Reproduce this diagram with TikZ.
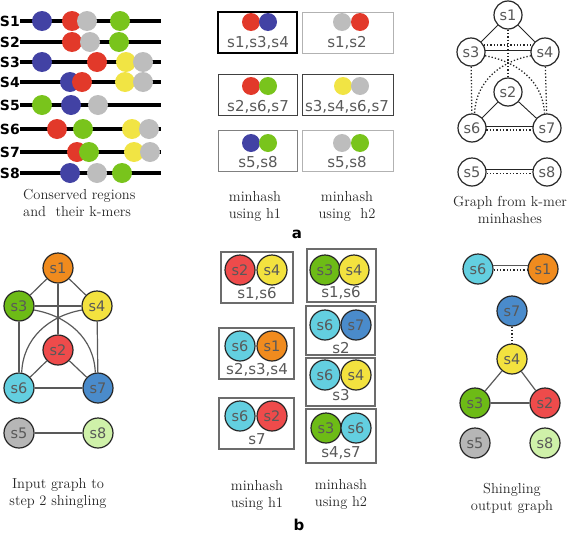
\documentclass[tikz,border=0pt]{standalone}
\usepackage{fontspec}
\newfontfamily\dejavu{DejaVu Sans}
\usetikzlibrary{positioning}

% k-mer colours (top row)
\definecolor{kblue}{HTML}{4242A4}
\definecolor{kred}{HTML}{E2392A}
\definecolor{kgray}{HTML}{BDBDBD}
\definecolor{kgreen}{HTML}{79C41C}
\definecolor{kyellow}{HTML}{F1E444}
% vertex colours (bottom row)
\definecolor{vorange}{HTML}{F08B1E}
\definecolor{vgreen}{HTML}{6DBB16}
\definecolor{vyellow}{HTML}{F3E23F}
\definecolor{vred}{HTML}{EE4B4B}
\definecolor{vcyan}{HTML}{63CFE0}
\definecolor{vblue}{HTML}{4A8BCB}
\definecolor{vgray}{HTML}{B6B6B6}
\definecolor{vlgreen}{HTML}{CFF1A9}

\tikzset{
  seqline/.style={line width=4.5pt, black},
  seqlabel/.style={anchor=east, inner sep=0pt, font=\dejavu\bfseries\fontsize{14}{14}\selectfont},
  kmer/.style={circle, inner sep=0pt, minimum size=20pt},
  hdot/.style={circle, inner sep=0pt, minimum size=18pt},
  hbox/.style={draw=gray!60, line width=1pt, minimum height=41pt, inner sep=0pt},
  htext/.style={anchor=base, inner sep=0pt, text=black!65, font=\dejavu\fontsize{15}{15}\selectfont},
  vert/.style={circle, draw=black!85, line width=1.2pt, fill=white, minimum size=28pt, inner sep=0pt, text=black!65, font=\dejavu\fontsize{14.5}{15}\selectfont},
  cvert/.style={vert, minimum size=30pt},
  sbox/.style={draw=gray!85!black, line width=1.5pt, inner sep=0pt},
  gedge/.style={black!85, line width=0.9pt},
  dotedge/.style={black!85, dotted, line width=1.3pt},
  iedge/.style={black!65, line width=1.2pt},
  capt/.style={anchor=north, inner sep=0pt, align=center, text=black!85, font=\fontsize{14.5}{17}\selectfont},
  panel/.style={inner sep=0pt, anchor=base, font=\dejavu\bfseries\fontsize{15}{15}\selectfont}
}

\begin{document}
\begin{tikzpicture}[x=1pt, y=-1pt]
    \useasboundingbox (0,0) rectangle (567,533);

    % --- a: conserved regions ---
    \foreach \n/\y in {1/21, 2/42, 3/62, 4/82, 5/105, 6/129, 7/152, 8/173} {
        \node[seqlabel] (S\n) at (20,\y) {S\n};
        \draw[seqline] (S\n.east) -- ++(141,0);
    }
    % k-mers per sequence, left to right
    \foreach \x/\y/\c in {42/21/kblue, 72/21/kred, 87/21/kgray, 120/21/kgreen,
                          72/42/kred, 90/42/kgray, 119/42/kgreen,
                          42/62/kblue, 97/62/kred, 126/62/kyellow, 143/62/kgray,
                          70/82/kblue, 82/82/kred, 125/82/kyellow, 143/82/kgray,
                          42/105/kgreen, 71/105/kblue, 98/105/kgray,
                          57/129/kred, 83/129/kgreen, 132/129/kyellow, 149/129/kgray,
                          77/152/kred, 89/152/kgreen, 134/152/kyellow, 150/152/kgray,
                          70/173/kblue, 97/173/kgray, 122/173/kgreen}
        \node[kmer, fill=\c] (k-\x-\y) at (\x,\y) {};
    \node[capt, anchor=north west, align=left] (capSeq) at (23,189) {Conserved regions\\and\ \ their k-mers};

    % --- a: minhash boxes ---
    \node[hbox, draw=black, line width=1.6pt, minimum width=79pt] (h1a) at (257.5,32.5) {};
    \node[hdot, fill=kred] (h1a-l) at (251,22) {};
    \node[hdot, fill=kblue] (h1a-r) at (268,22) {};
    \node[htext] (h1a-t) at (258,47) {s1,s3,s4};

    \node[hbox, minimum width=91pt] (h2a) at (347.5,32.5) {};
    \node[hdot, fill=kgray] (h2a-l) at (342,22) {};
    \node[hdot, fill=kred] (h2a-r) at (360,22) {};
    \node[htext] (h2a-t) at (347,47) {s1,s2};

    \node[hbox, draw=black!75, minimum width=79pt] (h1b) at (257.5,94.5) {};
    \node[hdot, fill=kred] (h1b-l) at (251,86) {};
    \node[hdot, fill=kgreen] (h1b-r) at (268,86) {};
    \node[htext] (h1b-t) at (258,111) {s2,s6,s7};

    \node[hbox, draw=black!75, minimum width=91pt] (h2b) at (347.5,94.5) {};
    \node[hdot, fill=kyellow] (h2b-l) at (343,86) {};
    \node[hdot, fill=kgray] (h2b-r) at (360,86) {};
    \node[htext] (h2b-t) at (347,111) {s3,s4,s6,s7};

    \node[hbox, draw=gray, minimum width=79pt] (h1c) at (257.5,151) {};
    \node[hdot, fill=kblue] (h1c-l) at (251,143) {};
    \node[hdot, fill=kgreen] (h1c-r) at (268,143) {};
    \node[htext] (h1c-t) at (258,167) {s5,s8};

    \node[hbox, minimum width=91pt] (h2c) at (347.5,151) {};
    \node[hdot, fill=kgray] (h2c-l) at (342,143) {};
    \node[hdot, fill=kgreen] (h2c-r) at (360,143) {};
    \node[htext] (h2c-t) at (347,167) {s5,s8};

    \node[capt] (capH1a) at (255,191) {minhash\\using h1};
    \node[capt] (capH2a) at (347,191) {minhash\\using\ \ h2};
    \node[panel] (pa) at (297,238) {a};

    % --- a: graph from k-mer minhashes ---
    \node[vert] (g1) at (508,15) {s1};
    \node[vert] (g3) at (471,52) {s3};
    \node[vert] (g4) at (545,52) {s4};
    \node[vert] (g2) at (508,92) {s2};
    \node[vert] (g6) at (472,128) {s6};
    \node[vert] (g7) at (547,128) {s7};
    \node[vert] (g5) at (472,172) {s5};
    \node[vert] (g8) at (547,172) {s8};
    \draw[gedge] (g1) -- (g3);
    \draw[gedge] (g1) -- (g4);
    \draw[dotedge] (g1) -- (g2);
    \draw[dotedge] (g3.28) -- (g4.152);
    \draw[gedge] (g3.8) -- (g4.172);
    \draw[dotedge] (g3) -- (g6);
    \draw[dotedge] (g4) -- (g7);
    \draw[dotedge] (g3.-15) to[out=-10, in=92] (g7.100);
    \draw[dotedge] (g4.195) to[out=190, in=88] (g6.80);
    \draw[gedge] (g2) -- (g6);
    \draw[gedge] (g2) -- (g7);
    \draw[gedge] (g6.8) -- (g7.172);
    \draw[dotedge] (g6.-8) -- (g7.-172);
    \draw[gedge] (g5.10) -- (g8.170);
    \draw[dotedge] (g5.-6) -- (g8.-174);
    \node[capt] (capGraph) at (510,196) {Graph from k-mer\\minhashes};

    % --- b: input graph ---
    \node[cvert, fill=vorange] (i1) at (58,268) {s1};
    \node[cvert, fill=vgreen] (i3) at (19,306) {s3};
    \node[cvert, fill=vyellow] (i4) at (97,306) {s4};
    \node[cvert, fill=vred] (i2) at (58,350) {s2};
    \node[cvert, fill=vcyan] (i6) at (19,388) {s6};
    \node[cvert, fill=vblue] (i7) at (98,388) {s7};
    \node[cvert, fill=vgray] (i5) at (19,433) {s5};
    \node[cvert, fill=vlgreen] (i8) at (98,433) {s8};
    \draw[iedge] (i1) -- (i3);
    \draw[iedge] (i1) -- (i4);
    \draw[iedge] (i1) -- (i2);
    \draw[iedge] (i3) -- (i4);
    \draw[iedge] (i3) -- (i6);
    \draw[iedge] (i4) -- (i7);
    \draw[iedge] (i3.-15) to[out=-10, in=92] (i7.100);
    \draw[iedge] (i4.195) to[out=190, in=88] (i6.80);
    \draw[iedge] (i2) -- (i6);
    \draw[iedge] (i2) -- (i7);
    \draw[iedge] (i6) -- (i7);
    \draw[iedge] (i5) -- (i8);
    \node[capt] (capInput) at (58,478) {Input graph to\\step 2 shingling};

    % --- b: minhash boxes ---
    \node[sbox, minimum width=72pt, minimum height=51pt] (b1) at (257,277.5) {};
    \node[cvert, fill=vred] (b1-l) at (240,270) {s2};
    \node[cvert, fill=vyellow] (b1-r) at (272,270) {s4};
    \node[htext] (b1-t) at (257,298) {s1,s6};

    \node[sbox, minimum width=75pt, minimum height=51pt] (b2) at (256.5,353.5) {};
    \node[cvert, fill=vcyan] (b2-l) at (240,346) {s6};
    \node[cvert, fill=vorange] (b2-r) at (272,346) {s1};
    \node[htext] (b2-t) at (257,374) {s2,s3,s4};

    \node[sbox, minimum width=75pt, minimum height=51pt] (b3) at (256.5,423.5) {};
    \node[cvert, fill=vcyan] (b3-l) at (240,416) {s6};
    \node[cvert, fill=vred] (b3-r) at (272,416) {s2};
    \node[htext] (b3-t) at (257,444) {s7};

    \node[sbox, minimum width=69pt, minimum height=53pt] (c1) at (341.5,275.5) {};
    \node[cvert, fill=vgreen] (c1-l) at (325,270) {s3};
    \node[cvert, fill=vyellow] (c1-r) at (354,270) {s4};
    \node[htext] (c1-t) at (341,297) {s1,s6};

    \node[sbox, minimum width=69pt, minimum height=49pt] (c2) at (340.5,330.5) {};
    \node[cvert, fill=vcyan] (c2-l) at (325,325) {s6};
    \node[cvert, fill=vblue] (c2-r) at (356,325) {s7};
    \node[htext] (c2-t) at (341,353) {s2};

    \node[sbox, minimum width=69pt, minimum height=48pt] (c3) at (340.5,382) {};
    \node[cvert, fill=vcyan] (c3-l) at (325,375) {s6};
    \node[cvert, fill=vyellow] (c3-r) at (356,375) {s4};
    \node[htext] (c3-t) at (341,400) {s3};

    \node[sbox, minimum width=70pt, minimum height=54pt] (c4) at (341,436) {};
    \node[cvert, fill=vgreen] (c4-l) at (326,428) {s3};
    \node[cvert, fill=vcyan] (c4-r) at (356,428) {s6};
    \node[htext] (c4-t) at (341,457) {s4,s7};

    \node[capt] (capH1b) at (257,480) {minhash\\using h1};
    \node[capt] (capH2b) at (341,479) {minhash\\using h2};
    \node[panel] (pb) at (299,530) {b};

    % --- b: shingling output graph ---
    \node[cvert, fill=vcyan] (o6) at (478,269) {s6};
    \node[cvert, fill=vorange] (o1) at (543,269) {s1};
    \node[cvert, fill=vblue] (o7) at (512,311) {s7};
    \node[cvert, fill=vyellow] (o4) at (512,359) {s4};
    \node[cvert, fill=vgreen] (o3) at (475,403) {s3};
    \node[cvert, fill=vred] (o2) at (545,403) {s2};
    \node[cvert, fill=vgray] (o5) at (475,443) {s5};
    \node[cvert, fill=vlgreen] (o8) at (545,443) {s8};
    \draw[iedge] (o6.12) -- (o1.168);
    \draw[dotedge] (o6.-4) -- (o1.-176);
    \draw[dotedge] (o7) -- (o4);
    \draw[iedge] (o4) -- (o3);
    \draw[iedge] (o4) -- (o2);
    \draw[iedge] (o3) -- (o2);
    \node[capt] (capOut) at (512,483) {Shingling\\output graph};
\end{tikzpicture}
\end{document}
